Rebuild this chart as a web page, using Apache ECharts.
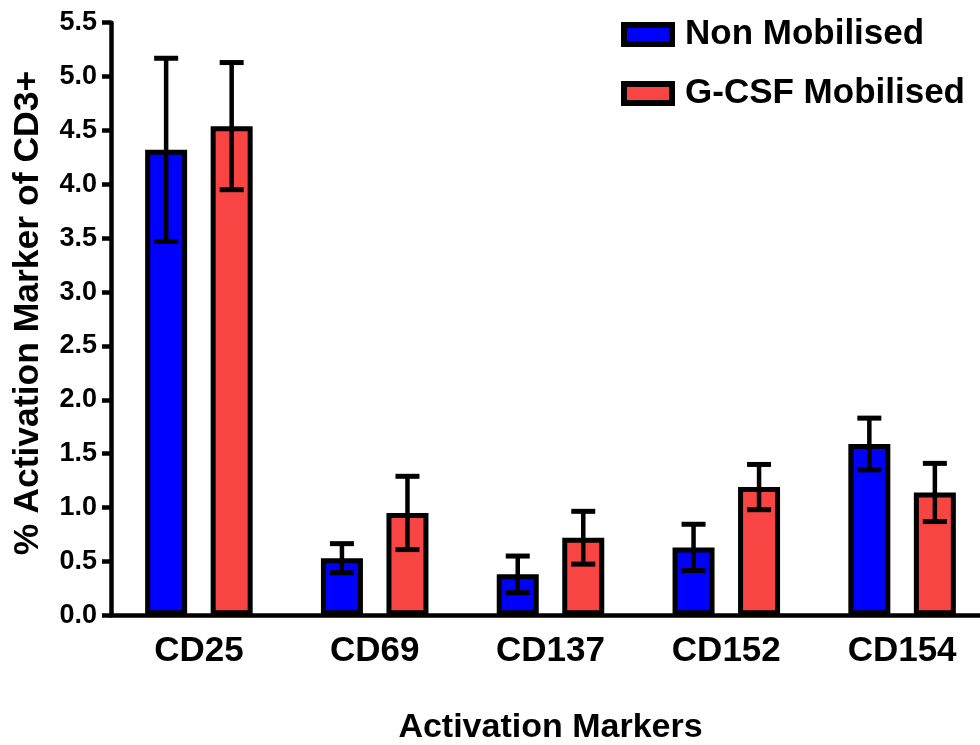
<!DOCTYPE html>
<html>
<head>
<meta charset="utf-8">
<script src="https://cdn.jsdelivr.net/npm/echarts@6/dist/echarts.min.js"></script>
<style>
html,body{margin:0;padding:0;background:#fff;overflow:hidden;}
#chart{width:980px;height:745px;}
</style>
</head>
<body>
<div id="chart"></div>
<script>
var categories = ['CD25', 'CD69', 'CD137', 'CD152', 'CD154'];
var nonMobilised = [4.32, 0.53, 0.38, 0.63, 1.59];
var nonMobilisedErr = [0.85, 0.135, 0.17, 0.215, 0.24];
var gcsfMobilised = [4.54, 0.95, 0.72, 1.19, 1.14];
var gcsfMobilisedErr = [0.59, 0.34, 0.245, 0.21, 0.27];
var yMin = 0, yMax = 5.5, yInterval = 0.5;

var FONT = '"Liberation Sans", Arial, sans-serif';
var BAR_W = 42, BAR_GAP = 0.56;
var halfSep = (BAR_W + BAR_GAP * BAR_W) / 2;

function errData(vals, errs) {
  return vals.map(function (v, i) { return [i, v, errs[i]]; });
}
function errRender(offset) {
  return function (params, api) {
    var i = api.value(0), m = api.value(1), e = api.value(2);
    var hi = api.coord([i, m + e]);
    var lo = api.coord([i, m - e]);
    var x = hi[0] + offset;
    var cw = 12;
    var st = {stroke: '#000', lineWidth: 5, lineCap: 'butt'};
    return {
      type: 'group',
      children: [
        {type: 'line', shape: {x1: x, y1: hi[1], x2: x, y2: lo[1]}, style: {stroke: '#000', lineWidth: 4.5}},
        {type: 'line', shape: {x1: x - cw, y1: hi[1], x2: x + cw, y2: hi[1]}, style: st},
        {type: 'line', shape: {x1: x - cw, y1: lo[1], x2: x + cw, y2: lo[1]}, style: st}
      ]
    };
  };
}

var legendCommon = {
  left: 621, padding: 0, icon: 'rect', itemWidth: 48, itemHeight: 19, orient: 'vertical',
  itemStyle: {borderColor: '#000', borderWidth: 6},
  textStyle: {fontFamily: FONT, fontWeight: 'bold', fontSize: 35, color: '#000', padding: [0, 0, 0, 8]}
};

var chart = echarts.init(document.getElementById('chart'));
chart.setOption({
  animation: false,
  backgroundColor: '#fff',
  legend: [
    Object.assign({}, legendCommon, {data: ['Non Mobilised'], top: 17}),
    Object.assign({}, legendCommon, {data: ['G-CSF Mobilised'], top: 76})
  ],
  grid: {left: 111, top: 22.7, width: 879, height: 592.6, containLabel: false, outerBoundsMode: 'none'},
  xAxis: {
    type: 'category',
    data: categories,
    name: 'Activation Markers',
    nameLocation: 'middle',
    nameGap: 95,
    nameTextStyle: {fontFamily: FONT, fontWeight: 'bold', fontSize: 34, color: '#000'},
    axisLine: {lineStyle: {color: '#000', width: 4.5}},
    axisTick: {show: false},
    axisLabel: {fontFamily: FONT, fontWeight: 'bold', fontSize: 35, color: '#000', margin: 19}
  },
  yAxis: {
    type: 'value',
    min: yMin, max: yMax, interval: yInterval,
    name: '% Activation Marker of CD3+',
    nameLocation: 'middle',
    nameGap: 65,
    nameRotate: 90,
    nameTextStyle: {fontFamily: FONT, fontWeight: 'bold', fontSize: 35.5, color: '#000', padding: [0, 0, 0, 12]},
    axisLine: {show: true, lineStyle: {color: '#000', width: 4.5}},
    axisTick: {show: true, length: 9, lineStyle: {color: '#000', width: 4.5}},
    splitLine: {show: false},
    axisLabel: {fontFamily: FONT, fontWeight: 'bold', fontSize: 27, color: '#000', margin: 14,
      formatter: function (v) { return v.toFixed(1); }}
  },
  series: [
    {name: 'Non Mobilised', type: 'bar', data: nonMobilised, barWidth: BAR_W, barGap: (BAR_GAP * 100) + '%',
      itemStyle: {color: '#0000FF', borderColor: '#000', borderWidth: 5}},
    {name: 'G-CSF Mobilised', type: 'bar', data: gcsfMobilised, barWidth: BAR_W,
      itemStyle: {color: '#F94444', borderColor: '#000', borderWidth: 5}},
    {name: 'err1', type: 'custom', silent: true, z: 10, data: errData(nonMobilised, nonMobilisedErr),
      encode: {x: 0, y: 1}, renderItem: errRender(-halfSep)},
    {name: 'err2', type: 'custom', silent: true, z: 10, data: errData(gcsfMobilised, gcsfMobilisedErr),
      encode: {x: 0, y: 1}, renderItem: errRender(halfSep)}
  ]
});
</script>
</body>
</html>
